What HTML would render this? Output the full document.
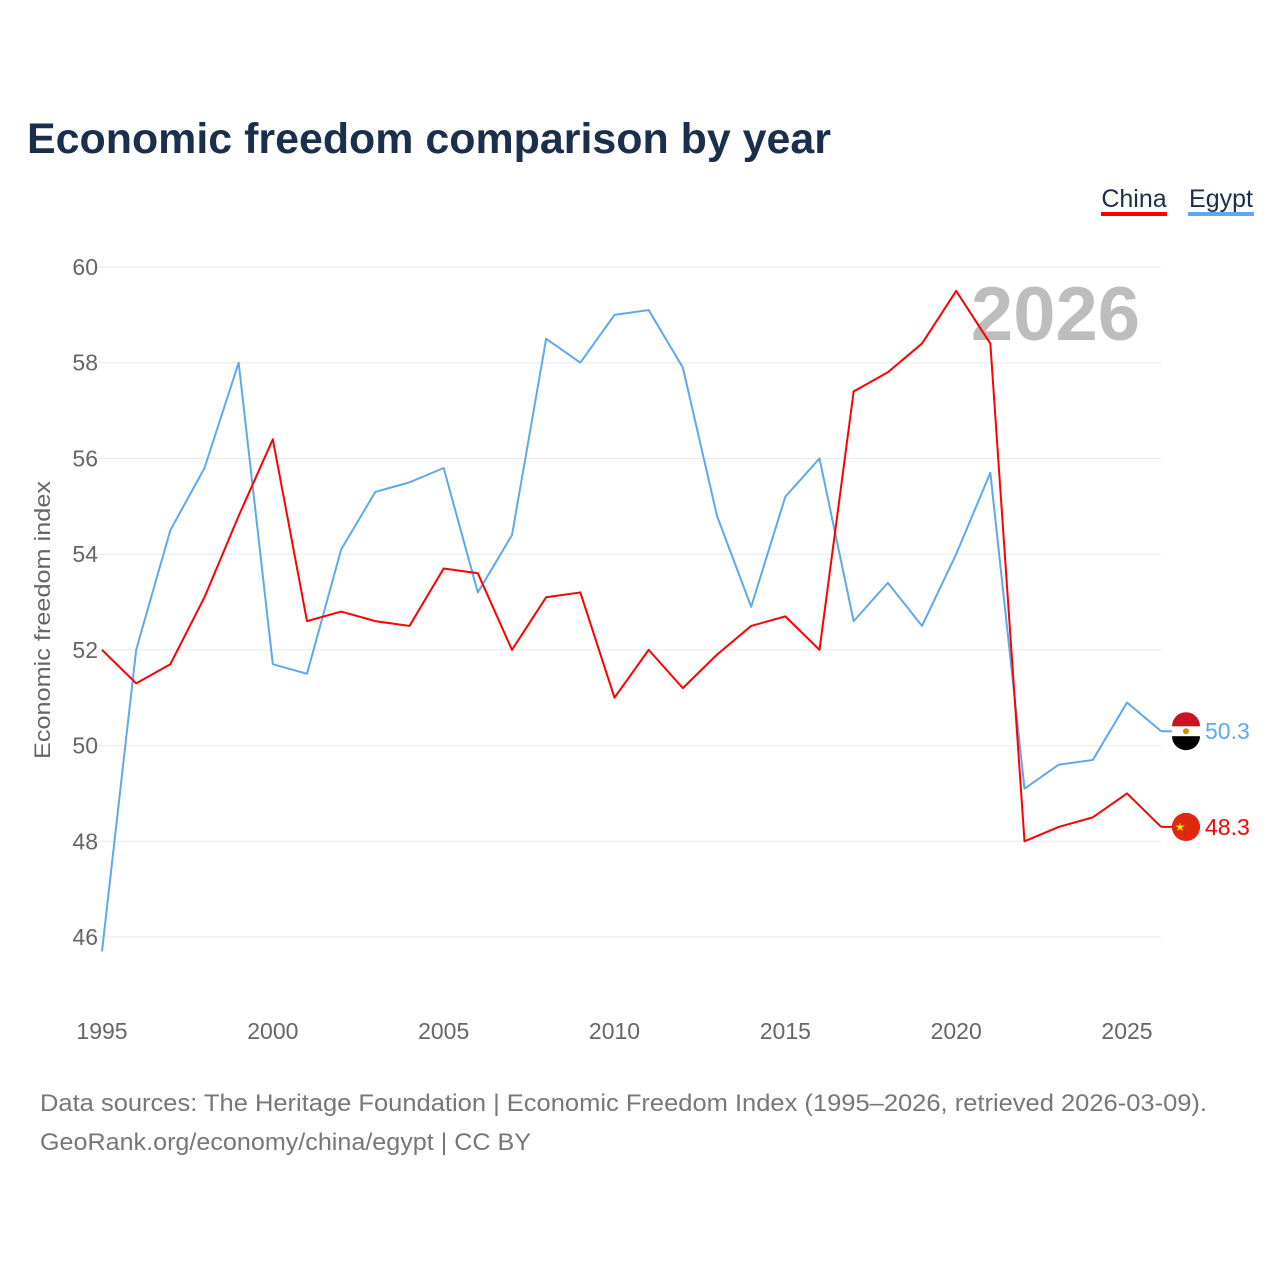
<!DOCTYPE html>
<html><head><meta charset="utf-8">
<style>
body{margin:0;background:#fff;font-family:"Liberation Sans",sans-serif;}
</style></head>
<body>
<svg id="chart" width="1280" height="1280" xmlns="http://www.w3.org/2000/svg" style="display:block">
<text x="27" y="153" font-size="43" font-weight="bold" fill="#1b2e4b" textLength="804" lengthAdjust="spacingAndGlyphs">Economic freedom comparison by year</text>
<g>
<text x="1134" y="207" font-size="25" fill="#1b2e4b" text-anchor="middle">China</text>
<rect x="1101" y="212" width="66" height="4" fill="#ff0000"/>
</g>
<g>
<text x="1221" y="207" font-size="25" fill="#1b2e4b" text-anchor="middle">Egypt</text>
<rect x="1188" y="212" width="66" height="4" fill="#5ea8ef"/>
</g>
<text x="1140" y="340" font-size="76" font-weight="bold" fill="#bdbdbd" text-anchor="end">2026</text>
<text transform="translate(50,620) rotate(-90)" font-size="22" fill="#666" text-anchor="middle" textLength="278" lengthAdjust="spacingAndGlyphs">Economic freedom index</text>
<g id="grid"></g><g id="series"></g>
<text x="40" y="1111" font-size="24" fill="#777" textLength="1167" lengthAdjust="spacingAndGlyphs">Data sources: The Heritage Foundation | Economic Freedom Index (1995–2026, retrieved 2026-03-09).</text>
<text x="40" y="1150" font-size="24" fill="#777" textLength="491" lengthAdjust="spacingAndGlyphs">GeoRank.org/economy/china/egypt | CC BY</text>
</svg>
<script>
const years=[1995,1996,1997,1998,1999,2000,2001,2002,2003,2004,2005,2006,2007,2008,2009,2010,2011,2012,2013,2014,2015,2016,2017,2018,2019,2020,2021,2022,2023,2024,2025,2026];
const china=[52.0,51.3,51.7,53.1,54.8,56.4,52.6,52.8,52.6,52.5,53.7,53.6,52.0,53.1,53.2,51.0,52.0,51.2,51.9,52.5,52.7,52.0,57.4,57.8,58.4,59.5,58.4,48.0,48.3,48.5,49.0,48.3];
const egypt=[45.7,52.0,54.5,55.8,58.0,51.7,51.5,54.1,55.3,55.5,55.8,53.2,54.4,58.5,58.0,59.0,59.1,57.9,54.8,52.9,55.2,56.0,52.6,53.4,52.5,54.0,55.7,49.1,49.6,49.7,50.9,50.3];
const yTicks=[46,48,50,52,54,56,58,60];
const xTicks=[1995,2000,2005,2010,2015,2020,2025];
const NS="http://www.w3.org/2000/svg";
const X=y=>102+(y-1995)*(1025/30);
const Y=v=>267+(60-v)*(670/14);
const grid=document.getElementById('grid'),ser=document.getElementById('series');
function mk(tag,at,parent){const e=document.createElementNS(NS,tag);for(const k in at)e.setAttribute(k,at[k]);parent.appendChild(e);return e;}
yTicks.forEach(t=>{
 const l=mk('line',{x1:95,x2:1161,y1:Y(t),y2:Y(t),stroke:'#e8e8e8','stroke-width':1},grid);
 
 
 const tx=mk('text',{x:98,y:Y(t)+8,'font-size':23,fill:'#666','text-anchor':'end'},grid);tx.textContent=t;
 
 
});
xTicks.forEach(t=>{
 const tx=mk('text',{x:X(t),y:1039,'font-size':23,fill:'#666','text-anchor':'middle'},grid);tx.textContent=t;
 
 
});
function line(data,color,name){
 const p=mk('polyline',{points:data.map((v,i)=>X(years[i])+','+Y(v)).join(' '),fill:'none',stroke:color,'stroke-width':2,'stroke-linejoin':'round'},ser);
 
 
 const last=data[data.length-1],lx=X(years[years.length-1]),ly=Y(last);
 mk('line',{x1:lx,x2:1186,y1:ly,y2:ly,stroke:color,'stroke-width':2},ser);
 const c=mk('circle',{cx:1186,cy:ly,r:14,fill:color},ser);
 
 
 const t=mk('text',{x:1205,y:ly+8,'font-size':23,fill:color},ser);t.textContent=last.toFixed(1);
 
 
 return ly;
}
const ey=line(egypt,'#5ea8ef','egypt');
mk('rect',{x:1172,y:ey-14+9,width:28,height:10,fill:'#fff'},ser);
mk('path',{d:`M1172 ${ey+5} A14 14 0 0 0 1200 ${ey+5} Z`,fill:'#000'},ser);
mk('path',{d:`M1172 ${ey-5} A14 14 0 0 1 1200 ${ey-5} Z`,fill:'#ce1126'},ser);
mk('circle',{cx:1186,cy:ey,r:3,fill:'#c09300'},ser);
const cy=line(china,'#ff0000','china');
mk('circle',{cx:1186,cy:cy,r:14,fill:'#de2910'},ser);
const st=mk('text',{x:1180,y:cy+4,'font-size':12,fill:'#ffde00','text-anchor':'middle'},ser);st.textContent='★';
</script>
</body></html>
